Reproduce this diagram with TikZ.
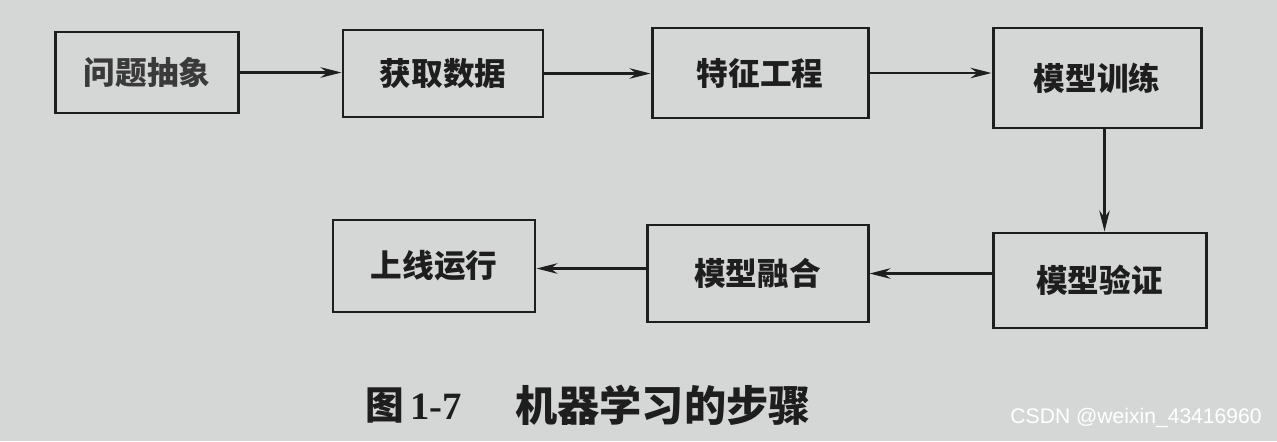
\documentclass[tikz,border=0pt]{standalone}
\usepackage{xcolor}
\usepackage{fontspec}
\usepackage{tikz}
\usetikzlibrary{arrows.meta, positioning, calc}
\newfontfamily\cjk{Noto Sans CJK SC}
\newfontfamily\markfont{Liberation Sans}
\newfontfamily\numfont{Liberation Serif}
\definecolor{paper}{HTML}{D5D7D6}
\definecolor{inkdark}{HTML}{1E1E1E}
\definecolor{inkgray}{HTML}{3A3A3A}

\begin{document}
\begin{tikzpicture}[
  stepbox/.style={rectangle, draw=inkdark, line width=1.7pt, inner sep=0pt, font=\cjk\bfseries\fontsize{18}{20}\selectfont, text=inkdark},
  flow/.style={draw=inkdark, line width=1.4pt, -{Stealth[length=4.2mm, width=2.1mm]}}
]
  % paper background and frame
  \fill[paper] (0,0) rectangle (25.54,8.82);
  \useasboundingbox (0,0) rectangle (25.54,8.82);

  % top row
  \node[stepbox, text=inkgray, minimum width=3.66cm, minimum height=1.62cm] (abstract) at (2.94,7.37) {问题抽象};
  \node[stepbox, minimum width=4.0cm, minimum height=1.74cm] (getdata) at (8.86,7.35) {获取数据};
  \node[stepbox, minimum width=4.32cm, minimum height=1.8cm] (feature) at (15.2,7.36) {特征工程};
  \node[stepbox, minimum width=4.16cm, minimum height=2.0cm] (train) at (21.94,7.26) {模型训练};

  % bottom row
  \node[stepbox, minimum width=4.26cm, minimum height=1.9cm] (verify) at (21.99,3.21) {模型验证};
  \node[stepbox, minimum width=4.42cm, minimum height=1.94cm] (fusion) at (15.15,3.35) {模型融合};
  \node[stepbox, minimum width=4.04cm, minimum height=1.84cm] (deploy) at (8.68,3.5) {上线运行};

  \draw[flow] (abstract.east) -- (abstract.east -| getdata.west);
  \draw[flow] (getdata.east) -- (getdata.east -| feature.west);
  \draw[flow] (feature.east) -- (feature.east -| train.west);
  \draw[flow] ([xshift=1.5mm]train.south) -- ([xshift=1.5mm]train.south |- verify.north);
  \draw[flow] (fusion.east -| verify.west) -- (fusion.east);
  \draw[flow] ([yshift=-0.5mm]deploy.east -| fusion.west) -- ([yshift=-0.5mm]deploy.east);

  % caption
  \node[anchor=west, inner sep=0pt, text=inkdark, font=\cjk\bfseries\fontsize{22}{24}\selectfont] (fignum) at (7.3,0.72) {图\,{\numfont\bfseries 1-7}};
  \node[anchor=west, inner sep=0pt, text=inkdark, font=\cjk\bfseries\fontsize{24}{26}\selectfont] (figtitle) at (10.3,0.72) {机器学习的步骤};

  % watermark
  \node[anchor=east, inner sep=0pt, text=white, font=\markfont\fontsize{12}{14}\selectfont] (mark) at (25.24,0.46) {CSDN @weixin\_43416960};
\end{tikzpicture}
\end{document}
